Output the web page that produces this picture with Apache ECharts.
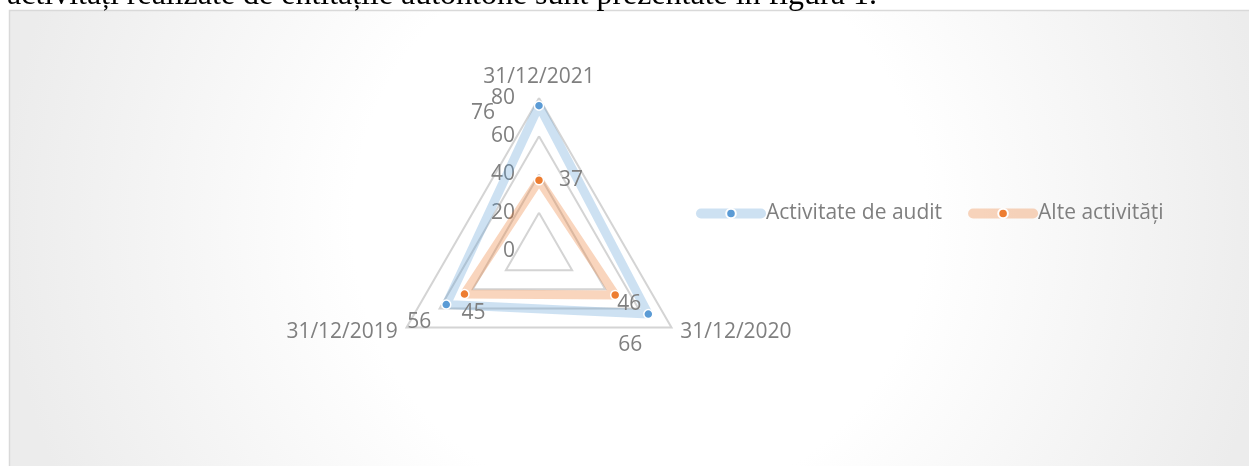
<!DOCTYPE html>
<html>
<head>
<meta charset="utf-8">
<script src="https://cdn.jsdelivr.net/npm/echarts@6/dist/echarts.min.js"></script>
<style>
html,body{margin:0;padding:0;background:#fff;}
#chart{width:1249px;height:466px;}
</style>
</head>
<body>
<div id="chart"></div>
<script>
// ---- data ----
var categories = ['31/12/2021', '31/12/2020', '31/12/2019'];
var seriesNames = ['Activitate de audit', 'Alte activități'];
var auditValues = [76, 66, 56];
var otherValues = [37, 46, 45];
var tickValues = [0, 20, 40, 60, 80];
var captionText = 'activități realizate de entitățile autohtone sunt prezentate în figura 1.';

// ---- styling ----
var TXT = '#7f7f7f';
var FONT = 'Open Sans';
var colors = ['#5b9bd5', '#ed7d31'];
var bands = ['rgba(91,155,213,0.3)', 'rgba(237,125,49,0.32)'];
// label offsets per series, per category (category order)
var labelOffsets = [
  [[-56, 7], [-18, 31], [-27, 17]],
  [[32, 0], [14, 9], [9, 19]]
];

// ECharts radar runs counter-clockwise; Excel runs clockwise -> reorder
var order = [0, 2, 1];
function reorder(arr) { return order.map(function (i) { return arr[i]; }); }

var chart = echarts.init(document.getElementById('chart'), null, {renderer: 'canvas'});

// caption font size fitted to the visible width
var cv = document.createElement('canvas').getContext('2d');
cv.font = '26px "Liberation Serif"';
var capSize = 26 * 870 / cv.measureText(captionText).width;

var allValues = [auditValues, otherValues];
var series = [];
// dummy line series for legend icons
seriesNames.forEach(function (n, s) {
  series.push({
    type: 'line', name: n, data: [], xAxisIndex: 0, yAxisIndex: 0,
    symbol: 'circle', symbolSize: 8,
    itemStyle: {color: colors[s], borderColor: '#fff', borderWidth: 1.5},
    lineStyle: {color: bands[s], width: 10, cap: 'round'}
  });
});
seriesNames.forEach(function (n, s) {
  series.push({
    type: 'radar', name: n + ' ',
    symbol: 'circle', symbolSize: 9, z: 3,
    itemStyle: {color: colors[s], borderColor: '#fff', borderWidth: 1.5},
    lineStyle: {color: bands[s], width: 9, opacity: 1, cap: 'round', join: 'round'},
    label: {show: false},
    data: [{name: n, value: reorder(allValues[s])}]
  });
});
// label carriers
seriesNames.forEach(function (n, s) {
  var vals = allValues[s];
  var data = categories.map(function (c, k) {
    return {
      name: n + '#' + k,
      value: reorder(vals),
      label: {
        show: true, position: 'inside', offset: labelOffsets[s][k],
        color: TXT, fontSize: 21, fontFamily: FONT,
        formatter: function (p) { return p.value === vals[k] ? String(vals[k]) : ''; }
      }
    };
  });
  series.push({
    type: 'radar', name: n + ' labels', symbol: 'circle', symbolSize: 0.1, z: 4,
    itemStyle: {color: 'rgba(0,0,0,0)'}, lineStyle: {opacity: 0, width: 0},
    silent: true, data: data
  });
});

var option = {
  animation: false,
  graphic: [
    {
      type: 'rect', z: -100, silent: true,
      shape: {x: 9.5, y: 10.5, width: 1260, height: 470},
      style: {
        fill: new echarts.graphic.RadialGradient(0.5, 0.45, 1.35, [
          {offset: 0, color: '#ffffff'},
          {offset: 0.45, color: '#ffffff'},
          {offset: 1, color: '#ececec'}
        ]),
        stroke: '#d9d9d9', lineWidth: 1.5
      }
    },
    {
      type: 'text', z: -50, silent: true, x: 7, y: -4,
      style: {text: captionText, fill: '#000', font: capSize.toFixed(2) + 'px "Liberation Serif"', verticalAlign: 'middle'}
    }
  ],
  grid: {left: 0, top: 0, width: 1, height: 1, show: false},
  xAxis: {type: 'category', show: false, data: []},
  yAxis: {type: 'value', show: false},
  legend: {
    data: seriesNames, left: 691, top: 198, itemGap: 26,
    itemWidth: 60, itemHeight: 12,
    lineStyle: {width: 10, cap: 'round'},
    textStyle: {color: TXT, fontSize: 21, fontFamily: FONT}
  },
  radar: {
    center: [539, 251], radius: 153, startAngle: 90, shape: 'polygon', splitNumber: 4,
    indicator: reorder(categories).map(function (c, i) {
      var ind = {name: c, min: tickValues[0], max: tickValues[tickValues.length - 1]};
      if (i === 0) ind.axisLabel = {show: true};
      return ind;
    }),
    axisName: {color: TXT, fontSize: 21, fontFamily: FONT},
    nameGap: 10,
    splitLine: {lineStyle: {color: '#d4d4d4', width: 2}},
    splitArea: {show: false},
    axisLine: {show: false},
    axisTick: {show: false},
    axisLabel: {show: false, color: TXT, fontSize: 21, fontFamily: FONT, margin: 24}
  },
  series: series
};
chart.setOption(option);
</script>
</body>
</html>
